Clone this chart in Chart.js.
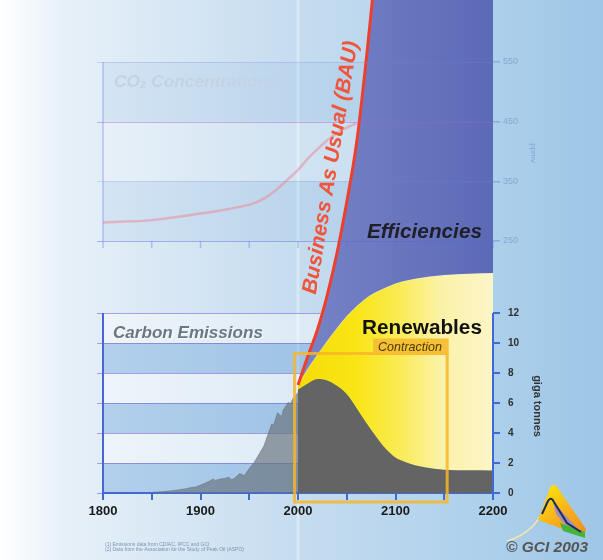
<!DOCTYPE html>
<html><head><meta charset="utf-8">
<script src="https://cdn.jsdelivr.net/npm/chart.js@4.4.1/dist/chart.umd.min.js"></script>
<style>html,body{margin:0;padding:0;background:#fff;}canvas{display:block;}</style>
</head><body>
<canvas id="c" width="603" height="560"></canvas>
<script>
// ---------- DATA ----------
const histYears = [1850,1855,1860,1865,1870,1875,1880,1885,1890,1895,1900,1905,1910,1913,1915,1920,1925,1929,1932,1935,1940,1945,1950,1955,1960,1965,1970,1973,1975,1979,1983,1985,1990,1992,1995,1998,2000];
const histEmissions = [0.05,0.07,0.09,0.11,0.15,0.19,0.24,0.28,0.36,0.40,0.53,0.66,0.82,0.94,0.84,0.93,0.98,1.05,0.88,0.99,1.30,1.16,1.63,2.04,2.58,3.13,4.05,4.60,4.55,5.35,5.10,5.55,6.05,5.95,6.30,6.55,6.70];
const projYears = [2000,2010,2020,2030,2040,2050,2060,2070,2080,2090,2100,2110,2120,2130,2140,2150,2175,2200];
const bauEmissions = [7.2,9.1,10.9,13.2,16.0,19.4,23.3,28.9,35.5,44,54,66,80,95,110,125,170,220];
const renewablesTop = [7.2,8.3,9.25,10.15,11.0,11.8,12.45,13.0,13.4,13.7,13.97,14.15,14.28,14.38,14.46,14.53,14.62,14.67];
const contraction = [6.9,7.3,7.6,7.5,7.15,6.6,5.67,4.68,3.76,2.95,2.37,2.07,1.85,1.72,1.62,1.55,1.51,1.5];
const co2Years = [1800,1850,1900,1950,1960,1970,1980,1990,2000,2010,2020,2030,2040,2050,2060];
const co2Ppm = [281,285,296,311,317,326,339,354,369,388,404,419,431,440,447];
const xTicks = [1800,1850,1900,1950,2000,2050,2100,2150,2200];
const xLabelYears = [1800,1900,2000,2100,2200];
const emissionTicks = [0,2,4,6,8,10,12];
const ppmTicks = [250,350,450,550];

// ---------- HELPERS ----------
const FONT = "'Liberation Sans', Arial, sans-serif";
const pts = (xa, ya) => xa.map((v, i) => ({x: v, y: ya[i]}));

function fitText(ctx, text, x, yb, w, style, color, align) {
  ctx.font = style + ' 20px ' + FONT;
  const m = ctx.measureText(text).width;
  const size = 20 * w / m;
  ctx.font = style + ' ' + size.toFixed(2) + 'px ' + FONT;
  ctx.fillStyle = color;
  ctx.textAlign = align || 'left';
  ctx.textBaseline = 'alphabetic';
  ctx.fillText(text, x, yb);
}
function seg(ctx, x1, y1, x2, y2) { ctx.beginPath(); ctx.moveTo(x1, y1); ctx.lineTo(x2, y2); ctx.stroke(); }

const blueFill = (c) => {
  const ch = c.chart, a = ch.chartArea;
  if (!a) return '#6b78c0';
  const g = ch.ctx.createLinearGradient(ch.scales.x.getPixelForValue(2000), 0, a.right, 0);
  g.addColorStop(0, '#7884c7'); g.addColorStop(1, '#5c69b6');
  return g;
};
const yellowFill = (c) => {
  const ch = c.chart, a = ch.chartArea;
  if (!a) return '#f8e40f';
  const g = ch.ctx.createLinearGradient(ch.scales.x.getPixelForValue(2000), 0, a.right, 0);
  g.addColorStop(0, '#f6dc05'); g.addColorStop(0.3, '#f9e516'); g.addColorStop(0.52, '#faeb55');
  g.addColorStop(0.73, '#fbf2a8'); g.addColorStop(1, '#fcf5c8');
  return g;
};

// ---------- DECORATION PLUGIN ----------
const deco = {
  id: 'deco',
  beforeDraw(chart) {
    const {ctx, chartArea: a, scales: {x, y, y2}} = chart;
    const W = chart.width, H = chart.height;
    ctx.save();
    const g = ctx.createLinearGradient(0, 0, W, 0);
    g.addColorStop(0, '#ffffff'); g.addColorStop(0.1, '#e8f1f9'); g.addColorStop(0.45, '#c9def0');
    g.addColorStop(0.8, '#aed0eb'); g.addColorStop(1, '#9ec6e6');
    ctx.fillStyle = g; ctx.fillRect(0, 0, W, H);
    const x2000 = x.getPixelForValue(2000);
    ctx.fillStyle = 'rgba(255,255,255,0.35)'; ctx.fillRect(x2000 - 1.5, 0, 3, H);
    const L = a.left, R = a.right;
    for (let i = 0; i < ppmTicks.length - 1; i++) {
      const t = y2.getPixelForValue(ppmTicks[i + 1]), b = y2.getPixelForValue(ppmTicks[i]);
      ctx.fillStyle = i % 2 === 0 ? 'rgba(120,170,215,0.13)' : 'rgba(255,255,255,0.2)';
      ctx.fillRect(L, t, R - L, b - t);
    }
    for (let i = 0; i < emissionTicks.length - 1; i++) {
      const t = y.getPixelForValue(emissionTicks[i + 1]), b = y.getPixelForValue(emissionTicks[i]);
      ctx.fillStyle = i % 2 === 0 ? 'rgba(80,145,210,0.32)' : 'rgba(255,255,255,0.42)';
      ctx.fillRect(L, t, R - L, b - t);
    }
    ctx.lineWidth = 1;
    emissionTicks.forEach(v => {
      const py = Math.round(y.getPixelForValue(v)) + 0.5;
      ctx.strokeStyle = 'rgba(110,90,205,0.55)';
      seg(ctx, L - 6, py, R, py);
    });
    ctx.strokeStyle = '#4d63d6'; ctx.lineWidth = 2;
    seg(ctx, L, y.getPixelForValue(12), L, y.getPixelForValue(0));
    ctx.restore();
  },
  afterDatasetsDraw(chart) {
    const {ctx, chartArea: a, scales: {x, y, y2}} = chart;
    const L = a.left, R = a.right;
    ctx.save();
    // lower right axis line
    ctx.strokeStyle = '#3d6ad6'; ctx.lineWidth = 2;
    seg(ctx, R, y.getPixelForValue(12), R, y.getPixelForValue(0));
    // upper chart grid
    ctx.lineWidth = 1;
    ppmTicks.forEach(v => {
      const py = Math.round(y2.getPixelForValue(v)) + 0.5;
      ctx.strokeStyle = v === 250 ? 'rgba(80,105,220,0.45)' : (v === 450 ? 'rgba(165,95,200,0.45)' : 'rgba(110,130,220,0.25)');
      seg(ctx, L - 6, py, R, py);
    });
    ctx.strokeStyle = 'rgba(90,110,220,0.35)'; ctx.lineWidth = 1.5;
    seg(ctx, L, y2.getPixelForValue(550), L, y2.getPixelForValue(250));
    const base = y2.getPixelForValue(250);
    xTicks.forEach(v => { const px = x.getPixelForValue(v); seg(ctx, px, base, px, base + 7); });
    // ppm tick labels (right side, same column as the emissions labels)
    ctx.font = '9px ' + FONT; ctx.fillStyle = 'rgba(125,165,210,0.9)';
    ctx.textAlign = 'left'; ctx.textBaseline = 'middle';
    ppmTicks.forEach(v => ctx.fillText(String(v), R + 10, y2.getPixelForValue(v)));
    // contraction highlight box
    const bx1 = x.getPixelForValue(1996.5), bx2 = x.getPixelForValue(2153);
    const by1 = y.getPixelForValue(9.3), by2 = y.getPixelForValue(-0.6);
    ctx.strokeStyle = 'rgba(246,182,40,0.85)'; ctx.lineWidth = 3;
    ctx.strokeRect(bx1, by1, bx2 - bx1, by2 - by1);
    const tx1 = x.getPixelForValue(2077), ty1 = y.getPixelForValue(10.3);
    ctx.fillStyle = 'rgba(246,190,50,0.95)';
    ctx.fillRect(tx1, ty1, bx2 + 1.5 - tx1, by1 - ty1);
    fitText(ctx, 'Contraction', 378, 351, 64, 'italic', '#4a3a08');
    // labels
    fitText(ctx, 'CO\u2082 Concentrations', 114, 87, 164, 'italic bold', '#c4d3e4');
    fitText(ctx, 'Efficiencies', 367, 238, 115, 'italic bold', '#1f1f2a');
    fitText(ctx, 'Renewables', 362, 334, 120, 'bold', '#111111');
    ctx.save();
    ctx.shadowColor = 'rgba(255,255,255,0.8)'; ctx.shadowOffsetX = 1; ctx.shadowOffsetY = 1; ctx.shadowBlur = 1;
    fitText(ctx, 'Carbon Emissions', 113, 338, 150, 'italic bold', '#6b7782');
    ctx.restore();
    // BAU rotated label
    ctx.save();
    ctx.translate(331, 167.5);
    ctx.rotate(-80.6 * Math.PI / 180);
    ctx.font = 'italic bold 20px ' + FONT;
    const m = ctx.measureText('Business As Usual (BAU)').width;
    ctx.font = 'italic bold ' + (20 * 256 / m).toFixed(2) + 'px ' + FONT;
    ctx.fillStyle = '#f0553a'; ctx.textAlign = 'center'; ctx.textBaseline = 'middle';
    ctx.fillText('Business As Usual (BAU)', 0, 0);
    ctx.restore();
    ctx.restore();
  },
  afterDraw(chart) {
    const ctx = chart.ctx;
    ctx.save();
    // axis titles
    ctx.save(); ctx.translate(537, 406); ctx.rotate(Math.PI / 2);
    ctx.font = 'bold 11px ' + FONT; ctx.fillStyle = '#333'; ctx.textAlign = 'center'; ctx.textBaseline = 'middle';
    ctx.fillText('giga tonnes', 0, 0); ctx.restore();
    ctx.save(); ctx.translate(533, 153); ctx.rotate(Math.PI / 2);
    ctx.font = '8px ' + FONT; ctx.fillStyle = 'rgba(120,160,205,0.8)'; ctx.textAlign = 'center'; ctx.textBaseline = 'middle';
    ctx.fillText('ppmv', 0, 0); ctx.restore();
    // footnotes
    ctx.font = '5px ' + FONT; ctx.fillStyle = '#7b93b3'; ctx.textAlign = 'left'; ctx.textBaseline = 'alphabetic';
    ctx.fillText('(1) Emissions data from CDIAC, IPCC and GCI', 105, 546);
    ctx.fillText('(2) Data from the Association for the Study of Peak Oil (ASPO)', 105, 551);
    // logo
    ctx.strokeStyle = 'rgba(250,232,170,0.9)'; ctx.lineWidth = 1.5;
    ctx.beginPath(); ctx.moveTo(507, 541); ctx.quadraticCurveTo(528, 535, 540, 517); ctx.stroke();
    const lg = ctx.createLinearGradient(545, 485, 585, 535);
    lg.addColorStop(0, '#ffe600'); lg.addColorStop(0.5, '#f8b21c'); lg.addColorStop(1, '#f28d1e');
    ctx.fillStyle = lg;
    ctx.beginPath(); ctx.moveTo(538, 520); ctx.lineTo(550, 488); ctx.quadraticCurveTo(553, 482, 557, 487);
    ctx.lineTo(586, 529); ctx.lineTo(584, 536); ctx.lineTo(560, 528); ctx.closePath(); ctx.fill();
    ctx.fillStyle = 'rgba(150,140,205,0.9)';
    ctx.beginPath(); ctx.moveTo(553, 502); ctx.lineTo(580, 531); ctx.lineTo(571, 532); ctx.lineTo(556, 514); ctx.closePath(); ctx.fill();
    ctx.fillStyle = '#45b53a';
    ctx.beginPath(); ctx.moveTo(560, 523); ctx.lineTo(585, 532); ctx.lineTo(585, 538); ctx.lineTo(563, 531); ctx.closePath(); ctx.fill();
    ctx.strokeStyle = '#1e2a5a'; ctx.lineWidth = 2;
    ctx.beginPath(); ctx.moveTo(542, 514); ctx.lineTo(548, 501); ctx.quadraticCurveTo(551, 496, 554, 502);
    ctx.lineTo(567, 523); ctx.lineTo(581, 532); ctx.stroke();
    fitText(ctx, '\u00a9 GCI 2003', 506, 552, 82, 'italic bold', '#555555');
    ctx.restore();
  }
};

// ---------- CHART ----------
new Chart(document.getElementById('c'), {
  type: 'line',
  data: {
    datasets: [
      {label: 'Business As Usual (BAU)', yAxisID: 'y', data: pts(projYears, bauEmissions), borderColor: '#ee3f2c', borderWidth: 3,
       fill: '+1', backgroundColor: blueFill, cubicInterpolationMode: 'monotone', pointRadius: 0},
      {label: 'Renewables', yAxisID: 'y', data: pts(projYears, renewablesTop), borderColor: 'rgba(252,244,190,0.9)', borderWidth: 1,
       fill: '+1', backgroundColor: yellowFill, cubicInterpolationMode: 'monotone', pointRadius: 0},
      {label: 'Contraction', yAxisID: 'y', data: pts(projYears, contraction), borderColor: '#5f5f5f', borderWidth: 1,
       fill: 'origin', backgroundColor: '#646464', cubicInterpolationMode: 'monotone', pointRadius: 0},
      {label: 'Carbon Emissions', yAxisID: 'y', data: pts(histYears, histEmissions), borderColor: 'rgba(100,110,120,0.5)', borderWidth: 1,
       fill: 'origin', backgroundColor: 'rgba(105,115,125,0.68)', tension: 0, pointRadius: 0},
      {label: 'CO2 Concentrations', yAxisID: 'y2', data: pts(co2Years, co2Ppm), borderColor: 'rgba(232,140,155,0.55)',
       borderWidth: 2.5, fill: false, cubicInterpolationMode: 'monotone', pointRadius: 0}
    ]
  },
  options: {
    responsive: false, animation: false, devicePixelRatio: 1,
    layout: {padding: {left: 103, right: 0, top: 0, bottom: 0}},
    plugins: {legend: {display: false}, tooltip: {enabled: false}},
    scales: {
      x: {
        type: 'linear', min: 1800, max: 2200, position: 'bottom',
        afterBuildTicks: s => { s.ticks = xTicks.map(v => ({value: v})); },
        afterFit: s => { s.height = 67; s.paddingLeft = 0; s.paddingRight = 0; },
        ticks: {autoSkip: false, maxRotation: 0, padding: 4, color: '#1a1a1a',
                font: {family: FONT, size: 13, weight: 'bold'},
                callback: v => xLabelYears.includes(v) ? String(v) : ''},
        grid: {drawOnChartArea: false, tickLength: 7, color: '#3d6ad6', lineWidth: 2},
        border: {display: true, color: '#3d6ad6', width: 2}
      },
      y: {
        type: 'linear', position: 'right', weight: 1, min: 0, max: 32.87,
        afterBuildTicks: s => { s.ticks = emissionTicks.map(v => ({value: v})); },
        afterFit: s => { s.width = 110; s.paddingTop = 0; s.paddingBottom = 0; },
        ticks: {padding: 8, color: '#2f2f2f', font: {family: FONT, size: 10, weight: 'bold'}},
        grid: {drawOnChartArea: false, tickLength: 7, color: '#3d6ad6', lineWidth: 2},
        border: {display: false}
      },
      y2: {
        type: 'linear', position: 'right', weight: 0, min: -172.3, max: 653.9,
        afterBuildTicks: s => { s.ticks = ppmTicks.map(v => ({value: v})); },
        afterFit: s => { s.width = 0; s.paddingTop = 0; s.paddingBottom = 0; },
        ticks: {display: false},
        grid: {drawOnChartArea: false, tickLength: 7, color: 'rgba(90,140,220,0.5)', lineWidth: 1.5},
        border: {display: false}
      }
    }
  },
  plugins: [deco]
});
</script>
</body></html>
